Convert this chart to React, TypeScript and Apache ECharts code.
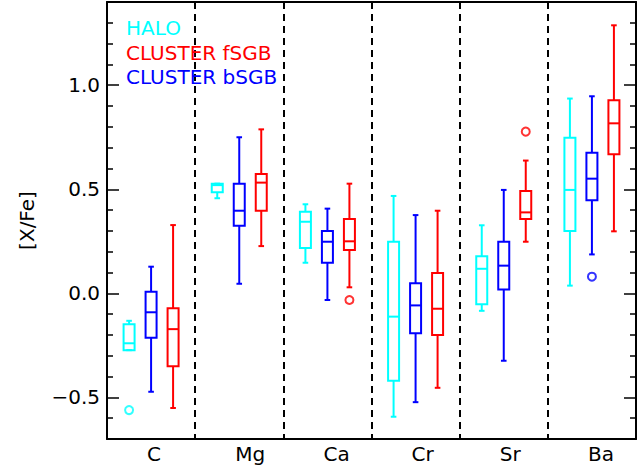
import React, { useEffect, useRef } from 'react';
import * as echarts from 'echarts';

const categories = ['C', 'Mg', 'Ca', 'Cr', 'Sr', 'Ba'];
const groupNames = ['HALO', 'CLUSTER fSGB', 'CLUSTER bSGB'];
const groupColors = ['#00FFFF', '#FF0000', '#0000FF'];

// each row: [low whisker, Q1, median, Q3, high whisker]
const haloBoxes = [
  [-0.273, -0.273, -0.240, -0.149, -0.132],
  [0.457, 0.486, 0.520, 0.527, 0.527],
  [0.147, 0.218, 0.344, 0.392, 0.428],
  [-0.593, -0.420, -0.112, 0.248, 0.468],
  [-0.084, -0.053, 0.118, 0.178, 0.327],
  [0.037, 0.300, 0.497, 0.748, 0.936],
];
const bsgbBoxes = [
  [-0.473, -0.213, -0.091, 0.008, 0.128],
  [0.046, 0.325, 0.397, 0.527, 0.750],
  [-0.032, 0.147, 0.248, 0.300, 0.407],
  [-0.523, -0.192, -0.058, 0.048, 0.376],
  [-0.324, 0.018, 0.133, 0.248, 0.497],
  [0.187, 0.447, 0.551, 0.676, 0.947],
];
const fsgbBoxes = [
  [-0.551, -0.350, -0.172, -0.072, 0.328],
  [0.227, 0.397, 0.532, 0.574, 0.788],
  [0.029, 0.208, 0.250, 0.357, 0.527],
  [-0.454, -0.200, -0.074, 0.098, 0.397],
  [0.248, 0.357, 0.389, 0.492, 0.638],
  [0.298, 0.668, 0.817, 0.928, 1.288],
];
// [category index, value]
const haloOutliers = [[0, -0.561]];
const bsgbOutliers = [[5, 0.080]];
const fsgbOutliers = [[2, -0.032], [4, 0.777]];

const FONT = 'DejaVu Sans';
const FS = 20;

function makeRender(offset: number, color: string) {
  return (params: any, api: any) => {
    const ci = api.value(0);
    const x = api.coord([ci, 0])[0] + offset;
    const yLow = api.coord([ci, api.value(1)])[1];
    const yQ1 = api.coord([ci, api.value(2)])[1];
    const yMed = api.coord([ci, api.value(3)])[1];
    const yQ3 = api.coord([ci, api.value(4)])[1];
    const yHigh = api.coord([ci, api.value(5)])[1];
    const hw = 5.5;
    const cw = 2.8;
    const style = { stroke: color, lineWidth: 2, fill: 'none' };
    return {
      type: 'group',
      children: [
        { type: 'rect', shape: { x: x - hw, y: yQ3, width: 2 * hw, height: yQ1 - yQ3 }, style },
        { type: 'line', shape: { x1: x - hw, y1: yMed, x2: x + hw, y2: yMed }, style },
        { type: 'line', shape: { x1: x, y1: yQ3, x2: x, y2: yHigh }, style },
        { type: 'line', shape: { x1: x, y1: yQ1, x2: x, y2: yLow }, style },
        { type: 'line', shape: { x1: x - cw, y1: yHigh, x2: x + cw, y2: yHigh }, style },
        { type: 'line', shape: { x1: x - cw, y1: yLow, x2: x + cw, y2: yLow }, style },
      ],
    };
  };
}

export default function App() {
  const ref = useRef<HTMLDivElement>(null);
  useEffect(() => {
    if (!ref.current) return;
    const chart = echarts.init(ref.current, null, { renderer: 'svg' });
    const axisLineStyle = { color: '#000', width: 2 };
    const fmt = (v: number) => (v < 0 ? '\u2212' : '') + Math.abs(v).toFixed(1);
    const boxSets = [haloBoxes, fsgbBoxes, bsgbBoxes];
    const outSets = [haloOutliers, fsgbOutliers, bsgbOutliers];
    const offsets = [-22, 22, 0];
    const series: any[] = [];
    for (let g = 0; g < 3; g++) {
      series.push({
        type: 'custom',
        name: groupNames[g],
        renderItem: makeRender(offsets[g], groupColors[g]),
        encode: { x: 0, y: [1, 2, 3, 4, 5] },
        data: boxSets[g].map((b, i) => [i, ...b]),
        itemStyle: { color: groupColors[g] },
        z: 3,
      });
      series.push({
        type: 'scatter',
        name: groupNames[g],
        data: outSets[g],
        symbol: 'emptyCircle',
        symbolSize: 8,
        symbolOffset: [offsets[g], 0],
        itemStyle: { color: groupColors[g], borderColor: groupColors[g], borderWidth: 1.8 },
        z: 3,
      });
    }
    const yCommon = {
      type: 'value',
      min: -0.7,
      max: 1.4,
      splitNumber: 5,
      axisLine: { show: true, lineStyle: axisLineStyle },
      axisTick: { show: true, inside: true, length: 12, lineStyle: { color: '#000', width: 1.5 } },
      minorTick: { show: true, splitNumber: 5, length: 6, lineStyle: { color: '#000', width: 1.5 } },
      splitLine: { show: false },
      minorSplitLine: { show: false },
    };
    chart.setOption({
      animation: false,
      backgroundColor: '#fff',
      grid: { left: 107, right: 8, top: 2, bottom: 29, containLabel: false },
      legend: {
        orient: 'vertical',
        left: 121,
        top: 18,
        padding: 0,
        itemGap: 4.5,
        icon: 'none',
        itemWidth: 0,
        itemHeight: 20,
        selectedMode: false,
        data: groupNames.map((n, i) => ({ name: n, textStyle: { color: groupColors[i] } })),
        textStyle: { fontSize: FS, fontFamily: FONT },
      },
      xAxis: [
        {
          type: 'category',
          data: categories,
          position: 'bottom',
          boundaryGap: true,
          axisLine: { onZero: false, lineStyle: axisLineStyle },
          axisTick: { show: false },
          splitLine: { show: true, lineStyle: { color: '#000', width: 2, type: [7, 5] } },
          axisLabel: {
            color: '#000',
            fontSize: FS,
            fontFamily: FONT,
            margin: 5,
            align: 'left',
            padding: [0, 0, 0, -4],
          },
        },
        {
          type: 'category',
          data: categories,
          position: 'top',
          axisLine: { onZero: false, lineStyle: axisLineStyle },
          axisTick: { show: false },
          axisLabel: { show: false },
          splitLine: { show: false },
        },
      ],
      yAxis: [
        {
          ...yCommon,
          position: 'left',
          axisLabel: {
            showMinLabel: false,
            showMaxLabel: false,
            formatter: fmt,
            margin: 7,
            fontSize: FS,
            fontFamily: FONT,
            color: '#000',
          },
          name: '[X/Fe]',
          nameLocation: 'middle',
          nameGap: 70,
          nameRotate: 90,
          nameTextStyle: { fontSize: FS, fontFamily: FONT, color: '#000' },
        },
        {
          ...yCommon,
          position: 'right',
          axisLabel: { show: false },
        },
      ],
      series,
    });
    return () => chart.dispose();
  }, []);
  return (
    <div
      ref={ref}
      style={{ position: 'fixed', left: 0, top: 0, width: 644, height: 468, background: '#fff' }}
    />
  );
}
